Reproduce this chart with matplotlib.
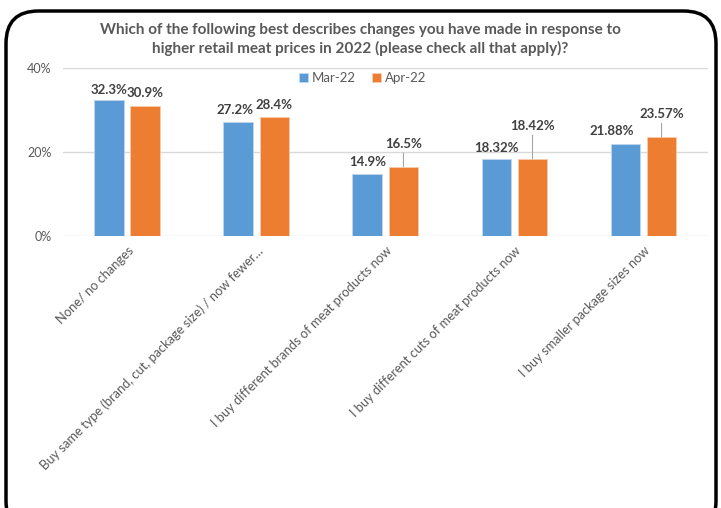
import matplotlib.pyplot as plt
import numpy as np
from matplotlib.patches import FancyBboxPatch

plt.rcParams['font.family'] = ['Lato', 'DejaVu Sans']

categories = [
    "None/ no changes",
    "Buy same type (brand, cut, package size) / now fewer\u2026",
    "I buy different brands of meat products now",
    "I buy different cuts of meat products now",
    "I buy smaller package sizes now",
]
mar22 = [32.3, 27.2, 14.9, 18.32, 21.88]
apr22 = [30.9, 28.4, 16.5, 18.42, 23.57]
mar_labels = ["32.3%", "27.2%", "14.9%", "18.32%", "21.88%"]
apr_labels = ["30.9%", "28.4%", "16.5%", "18.42%", "23.57%"]

blue = "#5B9BD5"
orange = "#ED7D31"
grey = "#595959"

fig = plt.figure(figsize=(7.21, 5.08), dpi=100)
ax = fig.add_axes([0.087, 0.535, 0.895, 0.331])

x = np.arange(len(categories))
w = 0.23
gap = 0.05
b1 = ax.bar(x - (w + gap) / 2, mar22, w, color=blue, edgecolor="#BDD7EE", linewidth=0.6)
b2 = ax.bar(x + (w + gap) / 2, apr22, w, color=orange, edgecolor="#F8CBAD", linewidth=0.6)

# data labels (some pushed up with a leader line, like the original)
mar_dx = [0, -2, 0, 0, -10]
mar_dy = [3, 4, 4, 4, 5]
apr_dy = [5, 4, 12, 19, 12]
lead = [False, False, True, True, True]
for i in range(len(categories)):
    bx = x[i] - (w + gap) / 2
    ax.annotate(mar_labels[i], (bx, mar22[i]), xytext=(mar_dx[i], mar_dy[i]),
                textcoords="offset points", ha="center", va="bottom",
                fontsize=9.5, fontweight="bold", color="#404040")
    ox = x[i] + (w + gap) / 2
    if lead[i]:
        ax.annotate(apr_labels[i], (ox, apr22[i]), xytext=(0, apr_dy[i]),
                    textcoords="offset points", ha="center", va="bottom",
                    fontsize=9.5, fontweight="bold", color="#404040",
                    arrowprops=dict(arrowstyle="-", color="#A6A6A6", lw=0.8,
                                    shrinkA=0, shrinkB=0))
    else:
        ax.annotate(apr_labels[i], (ox, apr22[i]), xytext=(0, apr_dy[i]),
                    textcoords="offset points", ha="center", va="bottom",
                    fontsize=9.5, fontweight="bold", color="#404040")

ax.set_xlim(-0.5, len(categories) - 0.5)
ax.set_ylim(0, 40)
ax.set_yticks([0, 20, 40])
ax.set_yticklabels(["0%", "20%", "40%"], color=grey, fontsize=9)
ax.yaxis.grid(True, color="#D9D9D9", linewidth=1)
ax.set_axisbelow(True)
ax.tick_params(axis="both", length=0, pad=8)
for s in ax.spines.values():
    s.set_visible(False)

ax.set_xticks(x)
ax.set_xticklabels(categories, rotation=45, ha="right", rotation_mode="anchor",
                   color=grey, fontsize=9.3)
ax.tick_params(axis="x", pad=6)

ax.legend([b1, b2], ["Mar-22", "Apr-22"], loc="upper center",
          bbox_to_anchor=(0.465, 1.045), ncol=2, frameon=False, fontsize=9.5,
          handlelength=0.7, handleheight=0.7, handletextpad=0.3, columnspacing=1.2,
          labelcolor=grey)

fig.text(0.5, 0.922, "Which of the following best describes changes you have made in response to\n"
         "higher retail meat prices in 2022 (please check all that apply)?",
         ha="center", va="center", fontsize=11, fontweight="bold", color=grey,
         linespacing=1.35)

border = FancyBboxPatch((6 / 721, -0.05), 710 / 721, 1.0 - 11 / 508 + 0.05,
                        boxstyle="round,pad=0,rounding_size=0.045",
                        transform=fig.transFigure, fill=False,
                        edgecolor="black", linewidth=2.5, mutation_aspect=721 / 508)
fig.patches.append(border)

fig.savefig("out.png", dpi=100)
